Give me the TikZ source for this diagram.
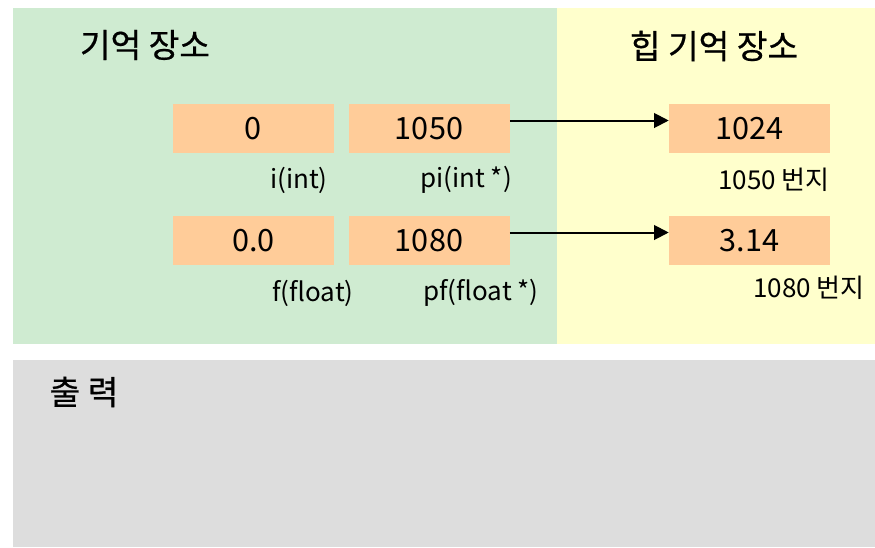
\documentclass[tikz,border=0pt]{standalone}
\usepackage{fontspec}
\setmainfont{Noto Sans CJK KR}
\newfontfamily\ttlfont[FakeBold=0.6]{Noto Sans CJK KR}
\usetikzlibrary{arrows.meta}
\definecolor{memgreen}{RGB}{207,235,209}
\definecolor{heapyellow}{RGB}{255,255,204}
\definecolor{cellorange}{RGB}{255,204,153}
\definecolor{outgray}{RGB}{221,221,221}
\tikzset{
  cell/.style={fill=cellorange, draw=none, minimum width=120.75pt, minimum height=36.5pt, inner sep=0pt, font=\fontsize{23}{26}\selectfont},
  lbl/.style={inner sep=0pt, font=\fontsize{19.5}{22}\selectfont},
  ttl/.style={inner sep=0pt, font=\ttlfont\fontsize{25}{29}\selectfont},
  link/.style={-{Triangle[length=11pt,width=11pt]}, line width=1.5pt}
}
\begin{document}
\begin{tikzpicture}[x=0.75pt,y=-0.75pt]
\useasboundingbox (0,0) rectangle (875,547);
\fill[white] (0,0) rectangle (875,547);
\fill[memgreen] (13,8) rectangle (557,344);
\fill[heapyellow] (557,8) rectangle (875,344);
\fill[outgray] (13,360) rectangle (875,547);
\node[ttl] (t1) at (145,45) {기억 장소};
\node[ttl] (t2) at (714,46) {힙 기억 장소};
\node[ttl] (t3) at (84,392) {출 력};
\node[cell] (i) at (253.5,128.5) {0};
\node[cell] (pi) at (429,128.5) {1050};
\node[cell] (h1) at (749.5,128.5) {1024};
\node[cell] (f) at (253.5,240.5) {0.0};
\node[cell] (pf) at (429,240.5) {1080};
\node[cell] (h2) at (749.5,240.5) {3.14};
\node[lbl] (li) at (299,180) {i(int)};
\node[lbl] (lpi) at (466,180) {pi(int *)};
\node[lbl] (lh1) at (774,180) {1050 번지};
\node[lbl] (lf) at (313,293) {f(float)};
\node[lbl] (lpf) at (481,293) {pf(float *)};
\node[lbl] (lh2) at (809,288) {1080 번지};
\draw[link] ([yshift=6pt]pi.east) -- ([yshift=6pt]h1.west);
\draw[link] ([yshift=6pt]pf.east) -- ([yshift=6pt]h2.west);
\end{tikzpicture}
\end{document}
